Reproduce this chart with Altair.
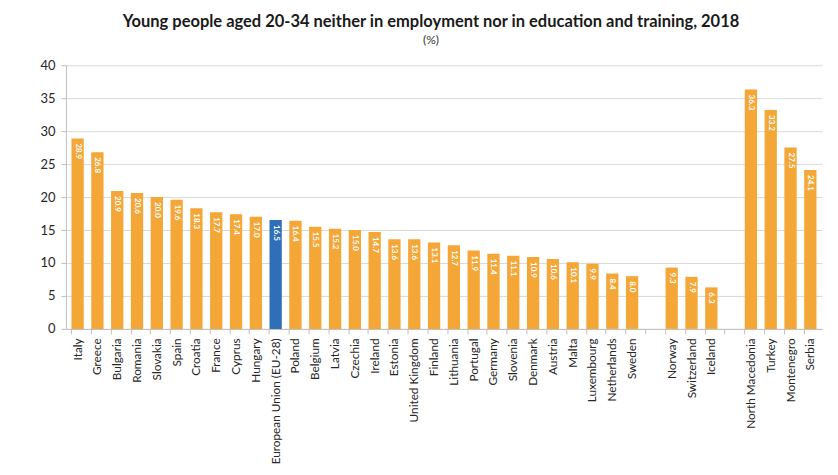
import altair as alt
import pandas as pd

countries = ["Italy", "Greece", "Bulgaria", "Romania", "Slovakia", "Spain", "Croatia",
             "France", "Cyprus", "Hungary", "European Union (EU-28)", "Poland", "Belgium",
             "Latvia", "Czechia", "Ireland", "Estonia", "United Kingdom", "Finland",
             "Lithuania", "Portugal", "Germany", "Slovenia", "Denmark", "Austria", "Malta",
             "Luxembourg", "Netherlands", "Sweden", "gap1", "Norway", "Switzerland",
             "Iceland", "gap2", "North Macedonia", "Turkey", "Montenegro", "Serbia"]
values = [28.9, 26.8, 20.9, 20.6, 20.0, 19.6, 18.3,
          17.7, 17.4, 17.0, 16.5, 16.4, 15.5,
          15.2, 15.0, 14.7, 13.6, 13.6, 13.1,
          12.7, 11.9, 11.4, 11.1, 10.9, 10.6, 10.1,
          9.9, 8.4, 8.0, None, 9.3, 7.9,
          6.3, None, 36.3, 33.2, 27.5, 24.1]
highlight = "European Union (EU-28)"
y_ticks = [0, 5, 10, 15, 20, 25, 30, 35, 40]

df = pd.DataFrame({"country": countries, "value": values})
df["is_eu"] = df["country"] == highlight
df = df.dropna(subset=["value"])

FONT = "Lato"

x = alt.X("country:N", sort=countries,
          scale=alt.Scale(domain=countries, paddingInner=0.38, paddingOuter=0.28),
          axis=alt.Axis(title=None, labelAngle=-90, labelAlign="right", labelBaseline="middle",
                        labelFontSize=11.8, labelColor="#262626", labelFont=FONT,
                        labelPadding=4, labelOverlap=False, labelLimit=200,
                        labelExpr="indexof(datum.value, 'gap') == 0 ? '' : datum.value",
                        bandPosition=0, tickSize=5, tickColor="#bfbfbf",
                        domainColor="#bfbfbf", grid=False))

y = alt.Y("value:Q",
          scale=alt.Scale(domain=[0, 40]),
          axis=alt.Axis(title=None, values=y_ticks, labelOverlap=False,
                        labelFontSize=13, labelColor="#262626", labelFont=FONT,
                        tickSize=5, tickColor="#bfbfbf", domainColor="#bfbfbf",
                        gridColor="#d9d9d9", labelPadding=6))

base = alt.Chart(df).encode(x=x, y=y)

bars = base.mark_bar().encode(
    color=alt.condition(alt.datum.is_eu, alt.value("#2E6FB7"), alt.value("#F4A637"))
)

labels = base.mark_text(angle=90, align="left", baseline="middle", dx=5,
                        color="white", fontSize=8, fontWeight="bold",
                        font=FONT).encode(
    text=alt.Text("value:Q", format=".1f")
)

chart = alt.layer(bars, labels).properties(
    width=757, height=264,
    autosize=alt.AutoSizeParams(type="none"),
    padding={"left": 58, "top": 57, "right": 8, "bottom": 140},
    title=alt.TitleParams(
        text="Young people aged 20-34 neither in employment nor in education and training, 2018",
        subtitle="(%)",
        anchor="middle", dx=-13, offset=13,
        font=FONT, fontSize=16.5, fontWeight="bold", color="#1a1a1a",
        subtitleFont=FONT, subtitleFontSize=12, subtitleColor="#333333",
        subtitlePadding=5)
).configure_view(stroke=None)

chart.save("out.html", embed_options={"renderer": "svg", "actions": False})
